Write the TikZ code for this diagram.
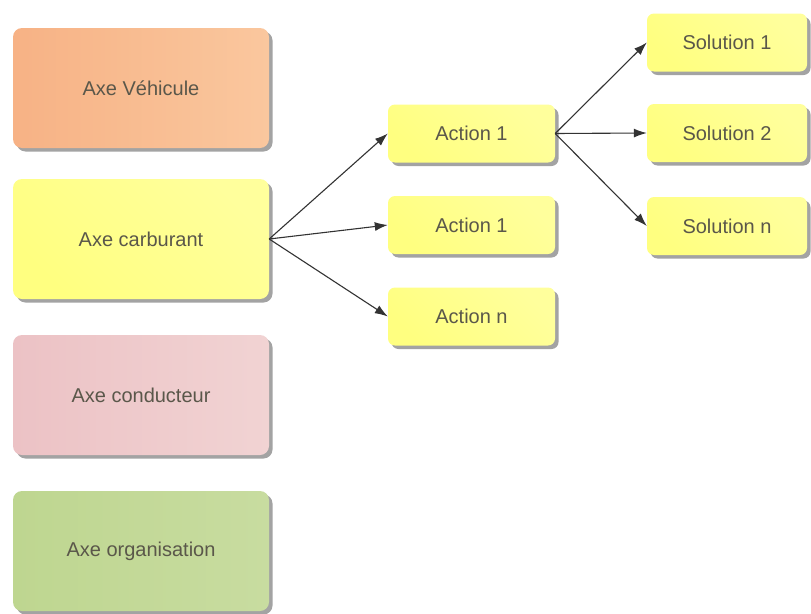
\documentclass[tikz,border=0pt]{standalone}
\usepackage{fontspec}
\setmainfont{Liberation Sans}
\usetikzlibrary{arrows.meta,shadows}
\definecolor{txt}{HTML}{5A574A}
\definecolor{arr}{HTML}{333333}
\definecolor{yelA}{HTML}{FFFF80}
\definecolor{yelB}{HTML}{FFFF9C}
\definecolor{orA}{HTML}{F7B285}
\definecolor{orB}{HTML}{FAC79E}
\definecolor{pkA}{HTML}{ECC2C5}
\definecolor{pkB}{HTML}{F1D3D3}
\definecolor{grA}{HTML}{BED690}
\definecolor{grB}{HTML}{C8DCA0}
\tikzset{
  box/.style={draw=none, rounded corners=9pt, inner sep=0pt,
    text=txt, font=\fontsize{20}{22}\selectfont,
    drop shadow={shadow xshift=3.5pt, shadow yshift=-3.5pt, fill=black!45, opacity=0.8}},
  bigbox/.style={box, minimum width=256pt, minimum height=120pt},
  smallbox/.style={box, rounded corners=7pt, minimum height=58pt},
  yshade/.style={left color=yelA, right color=yelB, shading angle=135},
  conn/.style={draw=arr, line width=1.1pt, -{Latex[length=13pt,width=9pt]}}
}
\begin{document}
\begin{tikzpicture}[x=1pt,y=-1pt]
\useasboundingbox (0,0) rectangle (811,613);
\fill[white] (0,0) rectangle (811,613);
\node[bigbox, shading angle=135, left color=orA, right color=orB] (veh) at (141,88) {Axe Véhicule};
\node[bigbox, yshade] (carb) at (141,239) {Axe carburant};
\node[bigbox, shading angle=135, left color=pkA, right color=pkB] (cond) at (141,395) {Axe conducteur};
\node[bigbox, shading angle=135, left color=grA, right color=grB] (org) at (141,551) {Axe organisation};
\node[smallbox, yshade, minimum width=167pt] (a1) at (471.5,133.5) {Action 1};
\node[smallbox, yshade, minimum width=167pt] (a2) at (471.5,225) {Action 1};
\node[smallbox, yshade, minimum width=167pt] (an) at (471.5,316.5) {Action n};
\node[smallbox, yshade, minimum width=160pt] (s1) at (727,42.5) {Solution 1};
\node[smallbox, yshade, minimum width=160pt] (s2) at (727,133) {Solution 2};
\node[smallbox, yshade, minimum width=160pt] (sn) at (727,226) {Solution n};
\draw[conn] (carb.east) -- (a1.west);
\draw[conn] (carb.east) -- (a2.west);
\draw[conn] (carb.east) -- (an.west);
\draw[conn] (a1.east) -- (s1.west);
\draw[conn] (a1.east) -- (s2.west);
\draw[conn] (a1.east) -- (sn.west);
\end{tikzpicture}
\end{document}
